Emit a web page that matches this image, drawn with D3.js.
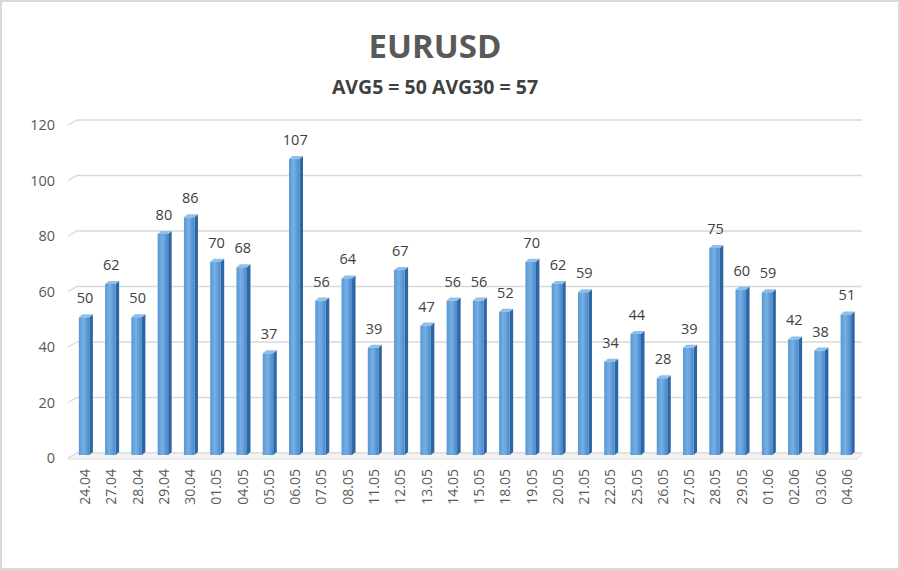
<!DOCTYPE html>
<html><head><meta charset="utf-8">
<script src="https://cdn.jsdelivr.net/npm/d3@7"></script>
<style>body{margin:0;background:#fff}svg{display:block}</style>
</head><body>
<svg id="c" width="900" height="570"></svg>
<script>
const categories = ["24.04","27.04","28.04","29.04","30.04","01.05","04.05","05.05","06.05","07.05","08.05","11.05","12.05","13.05","14.05","15.05","18.05","19.05","20.05","21.05","22.05","25.05","26.05","27.05","28.05","29.05","01.06","02.06","03.06","04.06"];
const values = [50,62,50,80,86,70,68,37,107,56,64,39,67,47,56,56,52,70,62,59,34,44,28,39,75,60,59,42,38,51];
const yTicks = [0,20,40,60,80,100,120];
const title = "EURUSD";
const subtitle = "AVG5 = 50 AVG30 = 57";

const svg = d3.select("#c");
const font = "'Open Sans', 'Noto Sans', sans-serif";
svg.append("rect").attr("x",1).attr("y",1).attr("width",898).attr("height",568)
  .attr("fill","#fff").attr("stroke","#d9d9d9").attr("stroke-width",2);

const defs = svg.append("defs");
const g1 = defs.append("linearGradient").attr("id","front").attr("x1","0").attr("x2","1").attr("y1","0").attr("y2","0");
g1.append("stop").attr("offset","0").attr("stop-color","#5597d5");
g1.append("stop").attr("offset","0.45").attr("stop-color","#78afe3");
g1.append("stop").attr("offset","1").attr("stop-color","#4789cc");

const y = d3.scaleLinear().domain([0,120]).range([456,123]);
const x = d3.scaleBand().domain(categories).range([71.5, 858.5]).paddingInner(0.6).paddingOuter(0.28);

// gridlines (3D)
const gx0 = 68, gdx = 9, gdy = 5, gx1 = 862;
svg.append("g").selectAll("path").data(yTicks).join("path")
  .attr("d", v => `M${gx0},${y(v)+2}L${gx0+gdx},${y(v)+2-gdy}L${gx1},${y(v)+2-gdy}`)
  .attr("fill","none").attr("stroke", "#d9d9d9").attr("stroke-width",1.3);
// floor
svg.append("path")
  .attr("d", `M${gx0},${y(0)+2}L${gx0+gdx},${y(0)+2-gdy}L${gx1},${y(0)+2-gdy}L${gx1-5},${y(0)+3}L${gx0},${y(0)+3}Z`)
  .attr("fill","#f3f3f3").attr("stroke","#d9d9d9").attr("stroke-width",1);

// y tick labels
svg.append("g").selectAll("text").data(yTicks).join("text")
  .attr("x", 55).attr("y", v => y(v)+2).attr("dy","0.35em")
  .attr("text-anchor","end").attr("font-family",font).attr("font-size",14.5)
  .attr("fill","#595959").text(d=>d);

// bars
const bw = x.bandwidth(), sd = 3.5, sh = 3;
const bars = svg.append("g").selectAll("g").data(values).join("g");
bars.append("path") // side
  .attr("d",(v,i)=>{const x0=x(categories[i])+bw, t=y(v), b=y(0)-1;
     return `M${x0},${t}L${x0+sd},${t-sh}L${x0+sd},${b-sh}L${x0},${b}Z`;})
  .attr("fill","#2c66a3");
bars.append("path") // top
  .attr("d",(v,i)=>{const x0=x(categories[i]), t=y(v);
     return `M${x0},${t}L${x0+sd},${t-sh}L${x0+bw+sd},${t-sh}L${x0+bw},${t}Z`;})
  .attr("fill","#8fc0ea");
bars.append("rect")
  .attr("x",(v,i)=>x(categories[i])).attr("y",v=>y(v))
  .attr("width",bw).attr("height",v=>y(0)-1-y(v))
  .attr("fill","url(#front)");

// value labels
svg.append("g").selectAll("text").data(values).join("text")
  .attr("x",(v,i)=>x(categories[i])+bw/2+1).attr("y",v=>y(v)-14)
  .attr("text-anchor","middle").attr("font-family",font).attr("font-size",14.5)
  .attr("fill","#404040").text(d=>d);

// x labels
svg.append("g").selectAll("text").data(categories).join("text")
  .attr("transform",(c)=>`translate(${x(c)+bw/2+1},469) rotate(-90)`)
  .attr("text-anchor","end").attr("dy","0.35em")
  .attr("font-family",font).attr("font-size",14).attr("fill","#595959").text(d=>d);

svg.append("text").attr("x",435).attr("y",58).attr("text-anchor","middle")
  .attr("font-family",font).attr("font-weight","bold").attr("font-size",33)
  .attr("fill","#595959").text(title);
svg.append("text").attr("x",435).attr("y",94).attr("text-anchor","middle")
  .attr("font-family",font).attr("font-weight","bold").attr("font-size",19.5)
  .attr("fill","#404040").text(subtitle);
</script>
</body></html>
